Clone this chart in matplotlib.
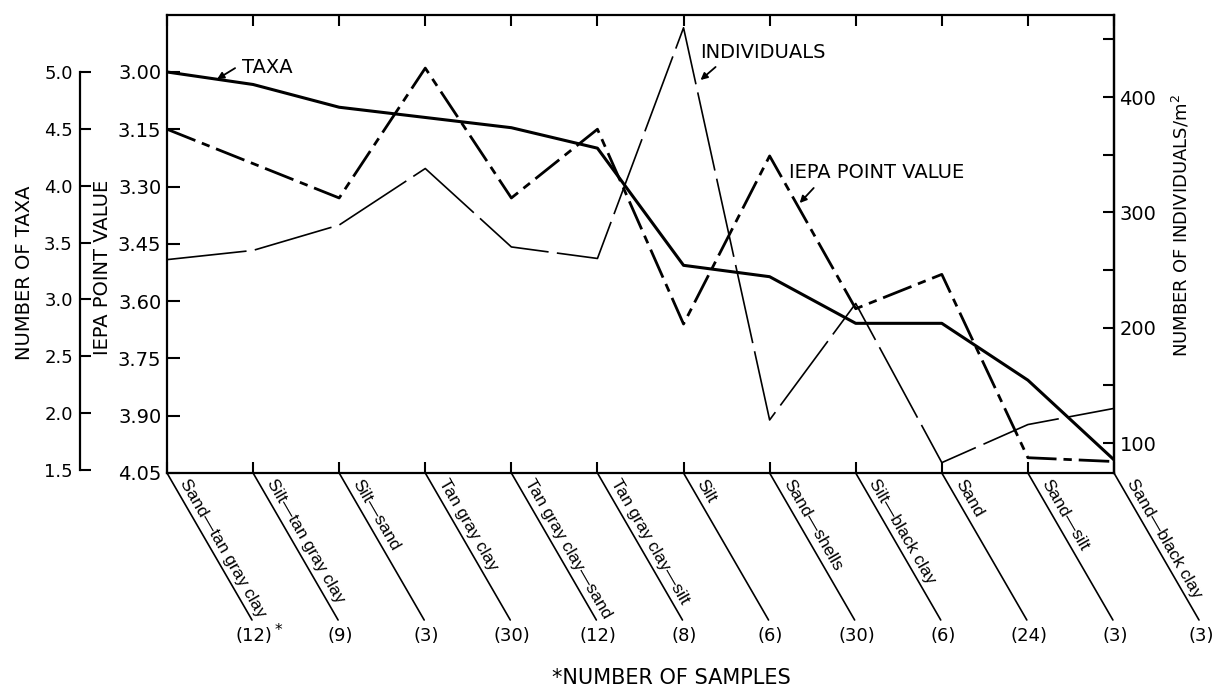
import matplotlib
matplotlib.use('Agg')
import matplotlib.pyplot as plt
from matplotlib.ticker import FixedLocator, FormatStrFormatter

# values (x = sediment type)
categories = ['Sand\u2014tan gray clay', 'Silt\u2014tan gray clay', 'Silt\u2014sand', 'Tan gray clay',
              'Tan gray clay\u2014sand', 'Tan gray clay\u2014silt', 'Silt', 'Sand\u2014shells',
              'Silt\u2014black clay', 'Sand', 'Sand\u2014silt', 'Sand\u2014black clay']
n_samples = [12, 9, 3, 30, 12, 8, 6, 30, 6, 24, 3, 3]
taxa = [5.00, 4.89, 4.69, 4.60, 4.51, 4.33, 3.30, 3.20, 2.79, 2.79, 2.29, 1.59]
iepa = [3.15, 3.24, 3.33, 2.99, 3.33, 3.15, 3.66, 3.22, 3.62, 3.53, 4.01, 4.02]
individuals = [259, 267, 289, 338, 270, 260, 460, 120, 221, 83, 116, 130]

iepa_ticks = [3.00, 3.15, 3.30, 3.45, 3.60, 3.75, 3.90, 4.05]
taxa_ticks = [1.5, 2.0, 2.5, 3.0, 3.5, 4.0, 4.5, 5.0]
ind_major = [100, 200, 300, 400]
ind_minor = [150, 250, 350, 450]

plt.rcParams['font.family'] = 'DejaVu Sans'

fig = plt.figure(figsize=(12.17, 6.89), dpi=100)
ax = fig.add_axes([0.13722, 0.31350, 0.77814, 0.66473])
x = list(range(len(categories)))

# IEPA point value on the main (inverted) axis
ax.set_xlim(0, 11)
ax.set_ylim(4.05, 2.851)
ax.yaxis.set_major_locator(FixedLocator(iepa_ticks))
ax.yaxis.set_major_formatter(FormatStrFormatter('%.2f'))
ax.set_xticks(x)
ax.tick_params(axis='y', direction='in', length=9, width=1.5, labelsize=14, pad=4)
ax.tick_params(axis='x', direction='in', top=True, bottom=True, length=8, width=1.5,
               labelbottom=False)
for s in ax.spines.values():
    s.set_linewidth(1.6)
ax.plot(x, iepa, color='black', lw=2.0, linestyle=(0, (11, 2.5, 3, 2.5)))

# number of taxa on an offset left axis
ax_taxa = ax.twinx()
ax_taxa.set_ylim(1.474, 5.501)
ax_taxa.yaxis.tick_left()
ax_taxa.spines['left'].set_position(('axes', -0.092))
ax_taxa.spines['left'].set_bounds(1.5, 5.0)
ax_taxa.spines['left'].set_linewidth(1.6)
for side in ['right', 'top', 'bottom']:
    ax_taxa.spines[side].set_visible(False)
ax_taxa.yaxis.set_major_locator(FixedLocator(taxa_ticks))
ax_taxa.yaxis.set_major_formatter(FormatStrFormatter('%.1f'))
ax_taxa.tick_params(axis='y', direction='in', length=8, width=1.5, labelsize=13, pad=5)
ax_taxa.plot(x, taxa, color='black', lw=2.2, solid_joinstyle='round')

# individuals on the right axis
ax_ind = ax.twinx()
ax_ind.set_ylim(74, 471.1)
for side in ['left', 'top', 'bottom']:
    ax_ind.spines[side].set_visible(False)
ax_ind.spines['right'].set_linewidth(1.6)
ax_ind.yaxis.set_major_locator(FixedLocator(ind_major))
ax_ind.yaxis.set_minor_locator(FixedLocator(ind_minor))
ax_ind.tick_params(axis='y', which='both', direction='in', length=8, width=1.5,
                   labelsize=14, pad=4)
ax_ind.plot(x, individuals, color='black', lw=1.2, linestyle=(0, (48, 5)))

# axis titles
ax.text(-0.150, 0.437, 'NUMBER OF TAXA', transform=ax.transAxes, rotation=90,
        ha='center', va='center', fontsize=14)
ax.text(-0.0677, 0.448, 'IEPA POINT VALUE', transform=ax.transAxes, rotation=90,
        ha='center', va='center', fontsize=14)
ax.text(1.071, 0.541, 'NUMBER OF INDIVIDUALS/m$^2$', transform=ax.transAxes, rotation=90,
        ha='center', va='center', fontsize=13)

# series labels with arrows
arrow = dict(arrowstyle='-|>', color='black', lw=1.3, shrinkA=0, shrinkB=0, mutation_scale=10)
labels = [('TAXA', (0.0793, 0.886), (0.0719, 0.884), (0.0529, 0.860)),
          ('INDIVIDUALS', (0.5634, 0.919), (0.5793, 0.8865), (0.5634, 0.8581)),
          ('IEPA POINT VALUE', (0.6564, 0.6572), (0.6829, 0.6223), (0.6681, 0.5895))]
for txt, pos, tail, tip in labels:
    ax.text(pos[0], pos[1], txt, transform=ax.transAxes, ha='left', va='center', fontsize=14)
    ax.annotate('', xy=tip, xytext=tail, xycoords='axes fraction',
                textcoords='axes fraction', arrowprops=arrow)

# slanted category labels under the axis
xt = ax.get_xaxis_transform()
for i, (cat, n) in enumerate(zip(categories, n_samples)):
    ax.annotate('', xy=(i, 0), xycoords=xt, xytext=(85, -147), textcoords='offset pixels',
                arrowprops=dict(arrowstyle='-', lw=1.2, color='black', shrinkA=0, shrinkB=0),
                annotation_clip=False)
    ax.annotate(cat, xy=(i, 0), xycoords=xt, xytext=(10.5, -11.2), textcoords='offset pixels',
                rotation=-60, rotation_mode='anchor', ha='left', va='bottom',
                fontsize=12.5, family=['Liberation Sans'], annotation_clip=False)
    ax.annotate('(%d)' % n, xy=(i, 0), xycoords=xt, xytext=(87, -163),
                textcoords='offset pixels', ha='center', va='center', fontsize=13,
                annotation_clip=False)
ax.annotate('*', xy=(0, 0), xycoords=xt, xytext=(111, -158), textcoords='offset pixels',
            ha='center', va='center', fontsize=11, annotation_clip=False)

fig.text(0.552, 0.016, '*NUMBER OF SAMPLES', ha='center', va='center', fontsize=15)

fig.savefig('out.png', dpi=100)
